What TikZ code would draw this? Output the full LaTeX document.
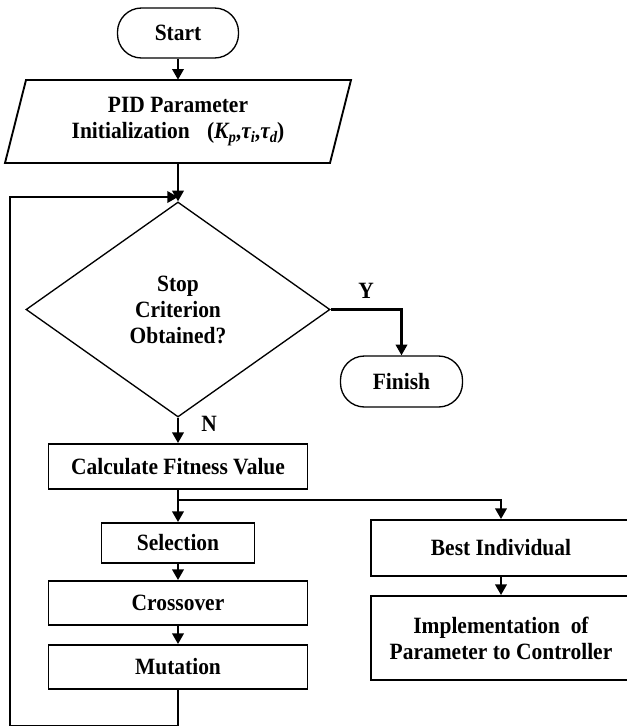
\documentclass[tikz,border=0pt]{standalone}
\usepackage{fontspec}
\setmainfont{Liberation Serif}[FakeStretch=0.92]
\usetikzlibrary{shapes.geometric,arrows.meta}
\newcommand{\mysubs}[1]{\raisebox{-0.35ex}{\fontsize{12}{13}\selectfont #1}}
\newcommand{\myinittext}{PID Parameter\\Initialization\hspace{13pt}(\textit{K\mysubs{p}},\textit{τ\mysubs{i}},\textit{τ\mysubs{d}})}
\begin{document}
\begin{tikzpicture}[x=0.75pt,y=-0.75pt,
  every node/.style={font=\fontsize{17.5}{19.5}\selectfont\bfseries, text=black},
  proc/.style={draw, line width=1.4pt, rectangle, inner sep=0pt, align=center},
  term/.style={draw, line width=1pt, rounded corners=18pt, inner sep=0pt},
  dec/.style={draw, line width=1pt, diamond, inner sep=0pt, align=center, aspect=1.414},
  conn/.style={line width=1.8pt, -{Triangle[length=8pt,width=8.5pt]}},
  lbl/.style={inner sep=0pt}]
\useasboundingbox (0,0) rectangle (626,726);

\node[term, minimum width=90.75pt, minimum height=37.5pt] (start) at (178,33) {Start};
\node[inner sep=0pt, minimum width=243.75pt, minimum height=62.25pt, align=center] (init) at (178,121.5) {\myinittext};
\draw[line width=1.4pt] (5,163) -- (330,163) -- (351,80) -- (26,80) -- cycle;

\node[dec, minimum width=228pt, minimum height=161.25pt] (dec) at (178,309.5) {Stop\\Criterion\\Obtained?};
\node[term, minimum width=91.5pt, minimum height=38.25pt] (fin) at (401.5,381.5) {Finish};

\node[proc, minimum width=194.25pt, minimum height=33.75pt] (calc) at (178,466.5) {Calculate Fitness Value};
\node[proc, minimum width=114.75pt, minimum height=30pt] (sel) at (178,543) {Selection};
\node[proc, minimum width=194.25pt, minimum height=33pt] (cross) at (178,603) {Crossover};
\node[proc, minimum width=194.25pt, minimum height=33pt] (mut) at (178,667) {Mutation};
\node[proc, minimum width=195pt, minimum height=42pt] (best) at (501,548) {Best Individual};
\node[proc, minimum width=195pt, minimum height=63pt] (impl) at (501,638) {Implementation~ of\\Parameter to Controller};

\node[lbl] (ylab) at (366,291) {Y};
\node[lbl] (nlab) at (209,424) {N};

\coordinate (join) at (178,197);
\coordinate (br) at (178,500);
\coordinate (bot) at (178,726);
\coordinate (bl) at (10,726);
\coordinate (tl) at (10,197);

\draw[conn] (start.south) -- (init.north);
\draw[conn] (init.south) -- (dec.north);
\draw[conn] (dec.east) -| (fin.north);
\draw[conn] (dec.south) -- (calc.north);
\draw[conn] (calc.south) -- (sel.north);
\draw[conn] (br) -| (best.north);
\draw[conn] (sel.south) -- (cross.north);
\draw[conn] (cross.south) -- (mut.north);
\draw[conn] (best.south) -- (impl.north);
\draw[conn] (mut.south) -- (bot) -- (bl) -- (tl) -- (join);
\end{tikzpicture}
\end{document}
